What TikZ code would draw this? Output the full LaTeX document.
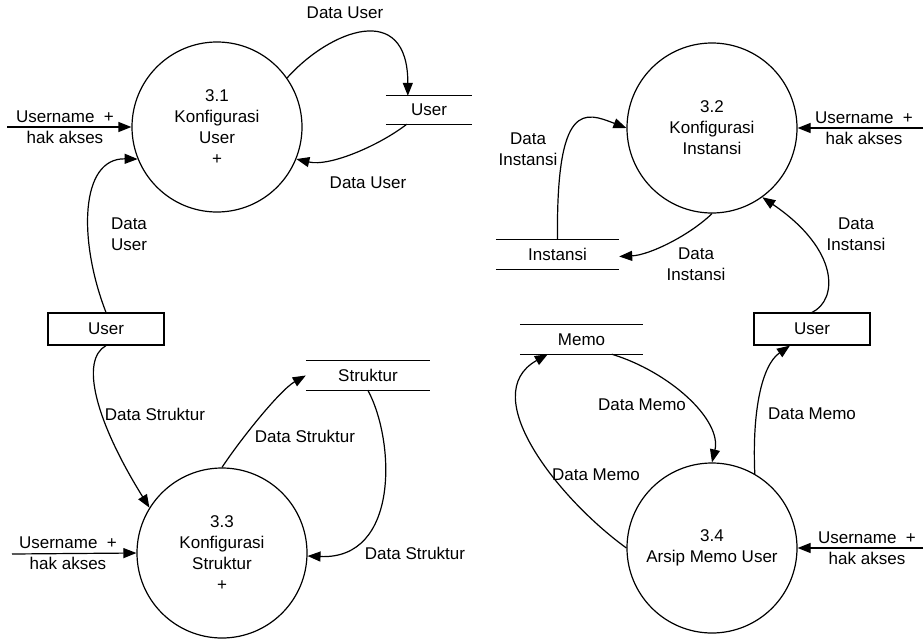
\documentclass[tikz,border=0pt]{standalone}
\usepackage{fontspec}
\setmainfont{Liberation Sans}
\usetikzlibrary{arrows.meta}
\begin{document}
\begin{tikzpicture}[x=1pt,y=-1pt,
  every node/.style={font=\fontsize{17}{21}\selectfont, align=center, inner sep=0pt},
  proc/.style={circle, draw, line width=1.2pt, minimum size=170pt},
  store/.style={minimum height=29pt},
  ext/.style={draw, line width=1.2pt, minimum width=116pt, minimum height=32pt},
  storeline/.style={line width=1.2pt},
  flow/.style={line width=1.2pt, -{Triangle[length=13pt,width=10pt]}}]
\useasboundingbox (0,0) rectangle (924,640);

% processes
\node[proc] (p31) at (217,127) {3.1\\Konfigurasi\\User\\+};
\node[proc] (p32) at (712,128) {3.2\\Konfigurasi\\Instansi};
\node[proc] (p33) at (222,553) {3.3\\Konfigurasi\\Struktur\\+};
\node[proc] (p34) at (712,548) {3.4\\Arsip Memo User};

% data stores
\node[store, minimum width=86pt, minimum height=28pt] (s1) at (429,110) {User};
\node[store, minimum width=123pt] (s2) at (557.5,254.5) {Instansi};
\node[store, minimum width=124pt] (s3) at (368,375.5) {Struktur};
\node[store, minimum width=123pt] (s4) at (581.5,339.5) {Memo};
\foreach \s in {s1,s2,s3,s4}{
  \draw[storeline] (\s.north west) -- (\s.north east) (\s.south west) -- (\s.south east);
}

% external entities
\node[ext] (e1) at (106,329) {User};
\node[ext] (e2) at (812,329) {User};

% free ends
\coordinate (u1) at (7,127);
\coordinate (u2) at (923,128);
\coordinate (u3) at (12,554);
\coordinate (u4) at (923,548);

% 3.1 flows
\draw[flow] (p31.35) .. controls (330,30) and (408,0) .. ([xshift=22pt]s1.north west);
\node (l1) at (345,13) {Data User};
\draw[flow] ([xshift=21pt]s1.south west) .. controls (380,145) and (330,167) .. (p31.-22);
\node (l2) at (368,183) {Data User};
\draw[flow] (u1) -- (p31.west);
\node (l3) at (65,127) {Username\ \ +\\hak akses};
\draw[flow] (e1.north) .. controls (78,240) and (80,158) .. (p31.202);
\node (l4) at (129,234) {Data\\User};

% 3.2 flows
\draw[flow] (s2.north) .. controls (556,100) and (585,112) .. (p32.180);
\node (l5) at (528,149) {Data\\Instansi};
\draw[flow] (p32.south) .. controls (690,235) and (650,255) .. ([yshift=-2pt]s2.east);
\node (l6) at (696,264) {Data\\Instansi};
\draw[flow] (u2) -- (p32.east);
\node (l7) at (864,128) {Username\ \ +\\hak akses};
\draw[flow] (e2.north) .. controls (838,300) and (840,250) .. (p32.-54);
\node (l8) at (856,234) {Data\\Instansi};

% 3.3 flows
\draw[flow] (e1.south) .. controls (80,360) and (95,420) .. (p33.148);
\node (l9) at (155,414) {Data Struktur};
\draw[flow] (p33.north) .. controls (240,440) and (280,390) .. (s3.west);
\node (l10) at (305,436) {Data Struktur};
\draw[flow] ([xshift=62pt]s3.south west) .. controls (395,440) and (400,560) .. (p33.-2);
\node (l11) at (415,553) {Data Struktur};
\draw[flow] (u3) -- (p33.west);
\node (l12) at (68,553) {Username\ \ +\\hak akses};

% 3.4 flows
\draw[flow] ([xshift=92pt]s4.south west) .. controls (670,372) and (722,420) .. (p34.north);
\node (l13) at (642,405) {Data Memo};
\draw[flow] (p34.west) .. controls (560,500) and (475,395) .. ([xshift=28pt]s4.south west);
\node (l14) at (596,475) {Data Memo};
\draw[flow] (p34.60) .. controls (752,410) and (762,365) .. ([xshift=-22pt]e2.south);
\node (l15) at (812,414) {Data Memo};
\draw[flow] (u4) -- (p34.east);
\node (l16) at (867,548) {Username\ \ +\\hak akses};
\end{tikzpicture}
\end{document}
